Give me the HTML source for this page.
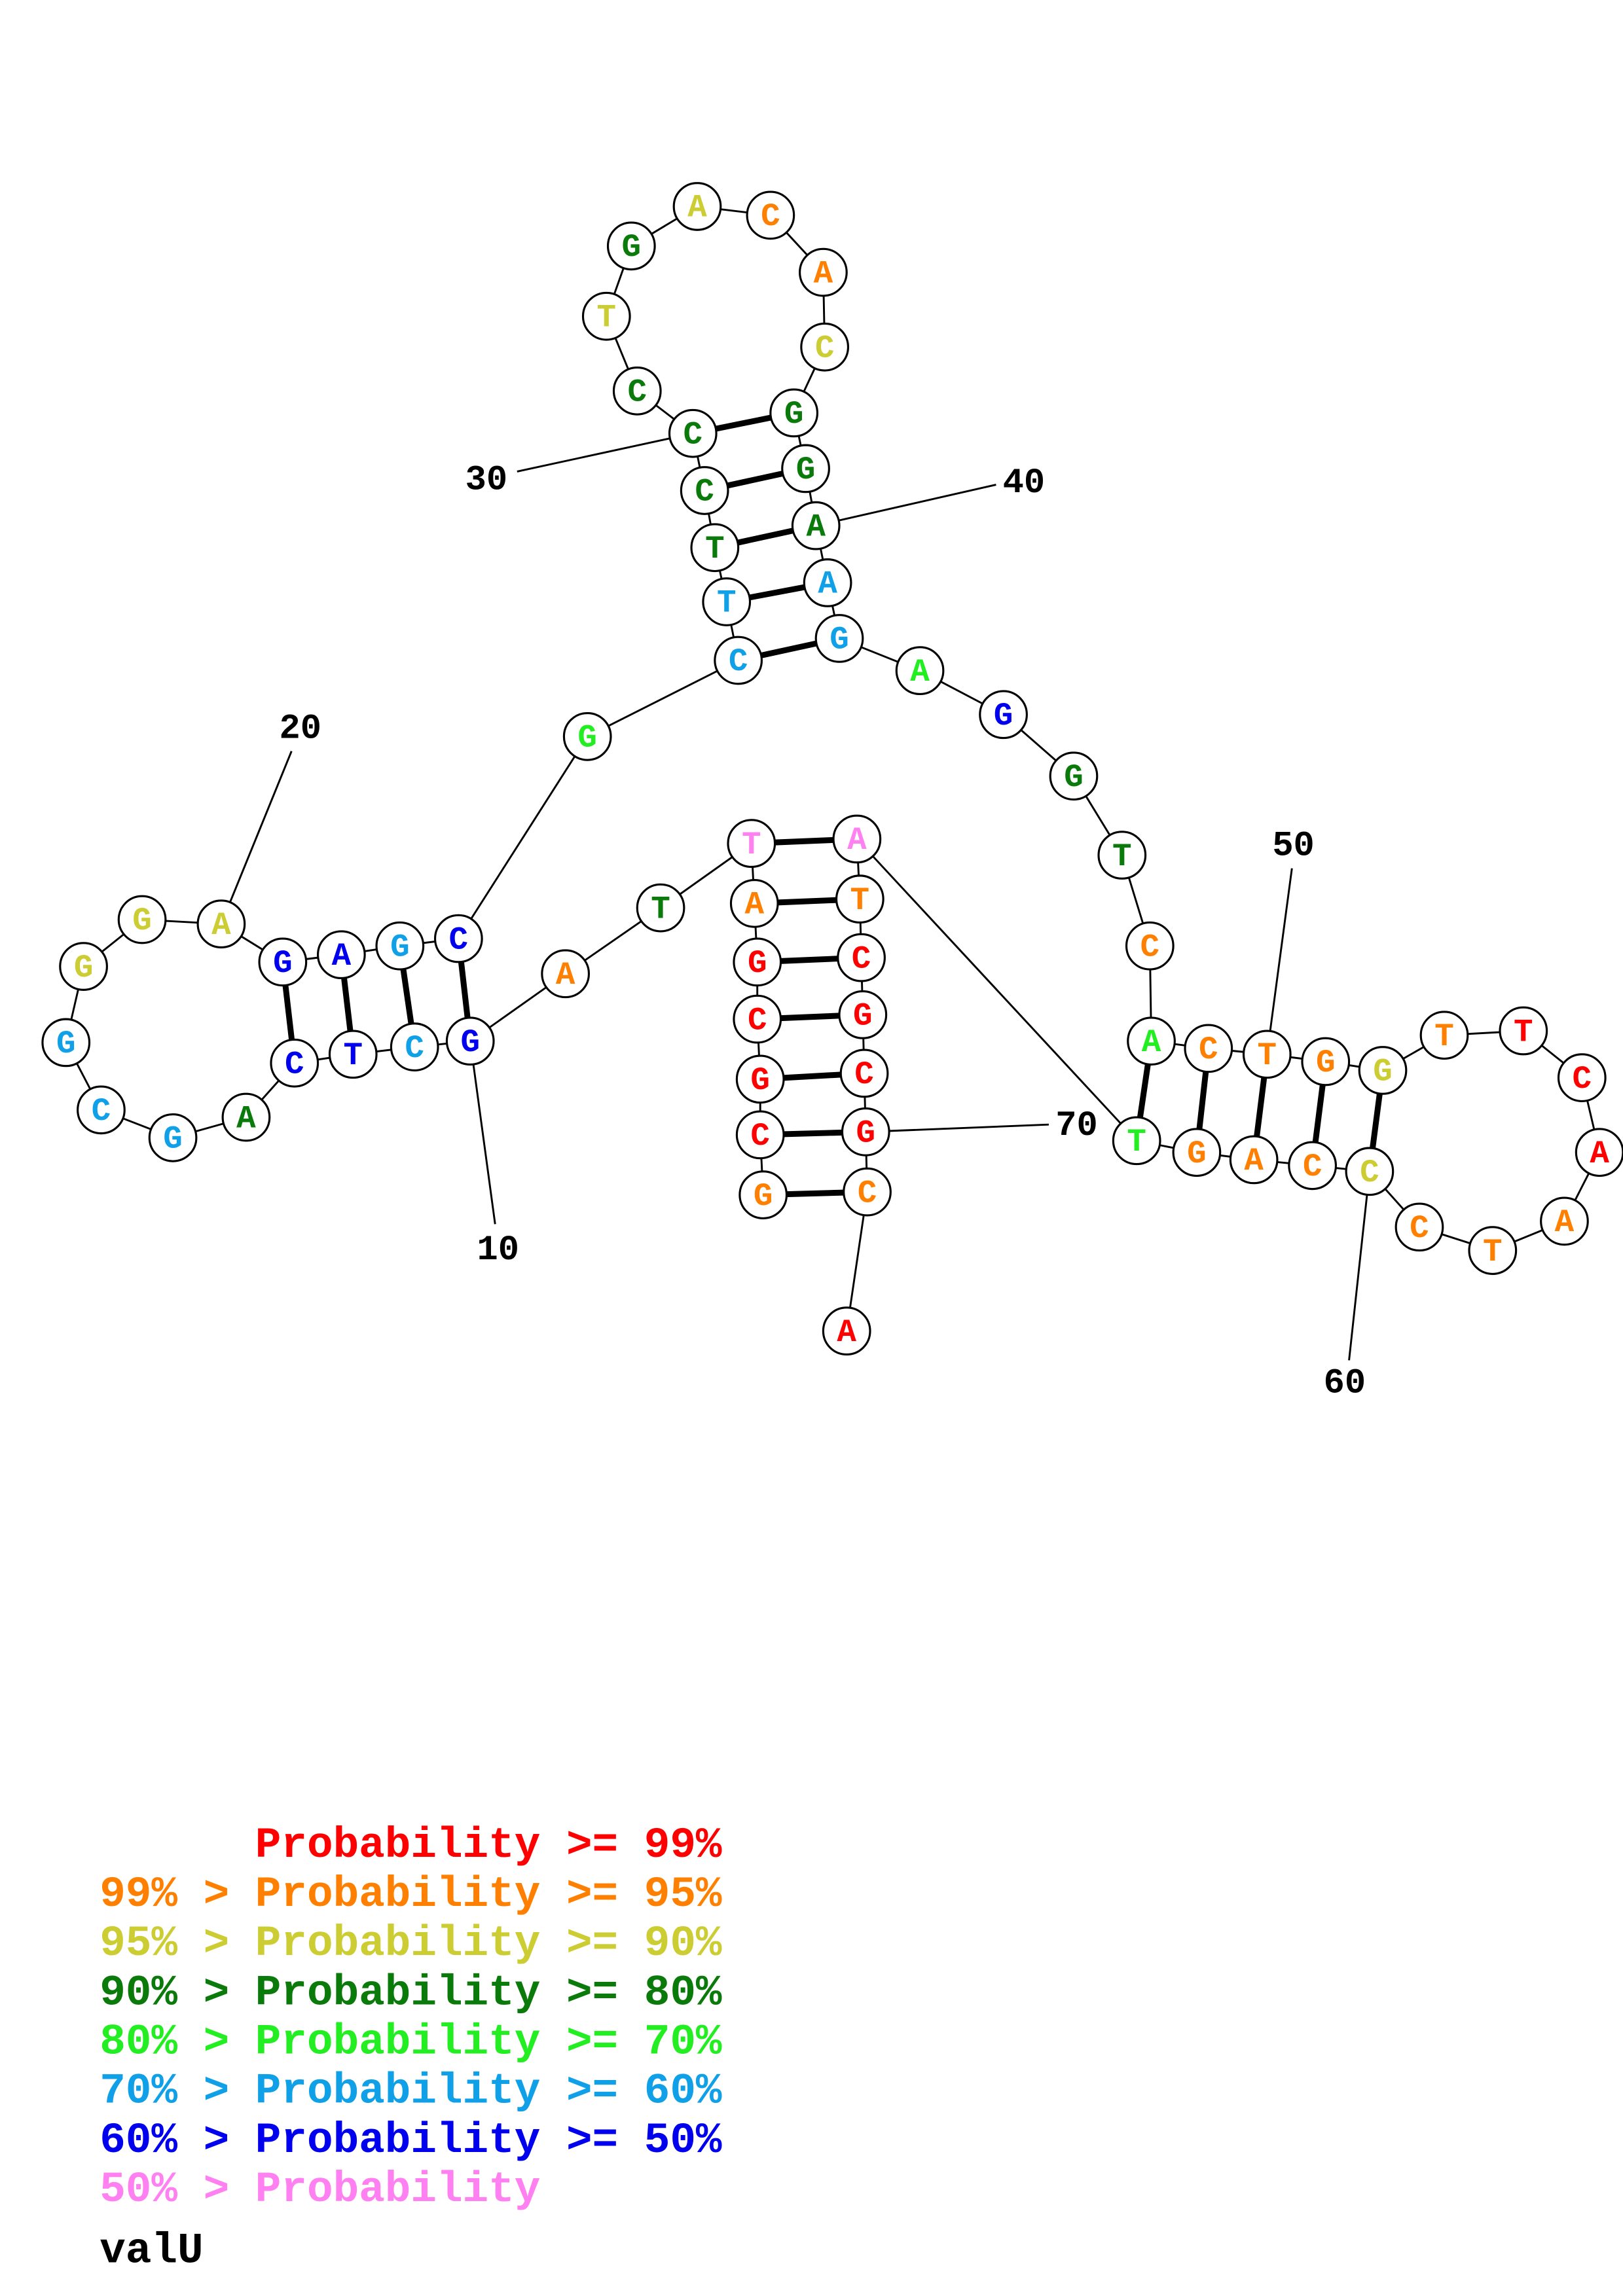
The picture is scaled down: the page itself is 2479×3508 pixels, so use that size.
<!DOCTYPE html>
<html><head><meta charset="utf-8"><style>
html,body{margin:0;padding:0;background:#fff}
svg{display:block}
text{font-family:"Liberation Mono",monospace;font-weight:bold}
.n text{font-size:22px;text-anchor:middle;dominant-baseline:central}
.lg{font-size:29.5px;white-space:pre}
.num{font-size:24px;text-anchor:middle;dominant-baseline:central;fill:#000}
</style></head><body>
<svg id="s" width="2479" height="3508" viewBox="0 0 1108 1568" xmlns="http://www.w3.org/2000/svg"></svg>
<script>
var N=[
[521,816,'G','o'],[519,775,'C','r'],[519,737,'G','r'],[517,696,'C','r'],[517,657,'G','r'],[515,617,'A','o'],[513,576,'T','p'],[451,620,'T','d'],[386,665,'A','o'],[321,711,'G','b'],
[283,715,'C','c'],[241,720,'T','b'],[201,726,'C','b'],[168,763,'A','d'],[118,777,'G','c'],[69,758,'C','c'],[45,712,'G','c'],[57,660,'G','y'],[97,628,'G','y'],[151,631,'A','y'],
[193,657,'G','b'],[233,652,'A','b'],[273,646,'G','c'],[313,641,'C','b'],[401,503,'G','g'],[504,451,'C','c'],[496,411,'T','c'],[488,374,'T','d'],[481,335,'C','d'],[473,296,'C','d'],
[435,267,'C','d'],[414,216,'T','y'],[431,168,'G','d'],[476,141,'A','y'],[526,147,'C','o'],[562,186,'A','o'],[563,237,'C','y'],[542,282,'G','d'],[550,320,'G','d'],[557,359,'A','d'],
[565,398,'A','c'],[573,436,'G','c'],[628,458,'A','g'],[685,488,'G','b'],[733,530,'G','d'],[766,584,'T','d'],[785,646,'C','o'],[786,711,'A','g'],[825,716,'C','o'],[865,720,'T','o'],
[905,725,'G','o'],[944,731,'G','y'],[986,707,'T','o'],[1040,704,'T','r'],[1080,736,'C','r'],[1092,787,'A','r'],[1068,834,'A','o'],[1019,854,'T','o'],[969,838,'C','o'],[935,800,'C','y'],
[896,796,'C','o'],[856,792,'A','o'],[817,787,'G','o'],[776,779,'T','g'],[585,573,'A','p'],[587,614,'T','o'],[588,654,'C','r'],[589,693,'G','r'],[590,733,'C','r'],[591,773,'G','r'],
[592,814,'C','o'],[578,909,'A','r']];
var C={r:'#ff0000',o:'#ff8000',y:'#cccc33',d:'#0a7a0a',g:'#22ee22',c:'#10a0e8',b:'#0000ee',p:'#ff80f0'};
var P=[[1,71],[2,70],[3,69],[4,68],[5,67],[6,66],[7,65],[10,24],[11,23],[12,22],[13,21],[26,42],[27,41],[28,40],[29,39],[30,38],[48,64],[49,63],[50,62],[51,61],[52,60]];
var L=[[10,'10',340,854,338,836],[20,'20',205,498,199,513],[30,'30',332,328,353,322],[40,'40',699,330,680,331],[50,'50',883,578,882,593],[60,'60',918,945,921,929],[70,'70',735,769,716,768]];
var s='';
for(var i=0;i<N.length-1;i++)s+='<line x1="'+N[i][0]+'" y1="'+N[i][1]+'" x2="'+N[i+1][0]+'" y2="'+N[i+1][1]+'" stroke="#000" stroke-width="1.3"/>';
P.forEach(function(p){var a=N[p[0]-1],b=N[p[1]-1];s+='<line x1="'+a[0]+'" y1="'+a[1]+'" x2="'+b[0]+'" y2="'+b[1]+'" stroke="#000" stroke-width="4"/>';});
L.forEach(function(l){var a=N[l[0]-1];s+='<line x1="'+a[0]+'" y1="'+a[1]+'" x2="'+l[4]+'" y2="'+l[5]+'" stroke="#000" stroke-width="1.3"/><text class="num" x="'+l[2]+'" y="'+l[3]+'">'+l[1]+'</text>';});
s+='<g class="n">';
N.forEach(function(n){s+='<circle cx="'+n[0]+'" cy="'+n[1]+'" r="16" fill="#fff" stroke="#000" stroke-width="1.4"/><text x="'+n[0]+'" y="'+(n[1]+1)+'" fill="'+C[n[3]]+'">'+n[2]+'</text>';});
s+='</g>';
var G=[['      Probability >= 99%','r'],['99% > Probability >= 95%','o'],['95% > Probability >= 90%','y'],['90% > Probability >= 80%','d'],['80% > Probability >= 70%','g'],['70% > Probability >= 60%','c'],['60% > Probability >= 50%','b'],['50% > Probability','p']];
G.forEach(function(g,i){s+='<text class="lg" x="68" y="'+(1268+i*33.6)+'" fill="'+C[g[1]]+'" xml:space="preserve">'+g[0]+'</text>';});
s+='<text class="lg" x="68" y="1545" fill="#000">valU</text>';
document.getElementById('s').innerHTML=s;
</script>
</body></html>
